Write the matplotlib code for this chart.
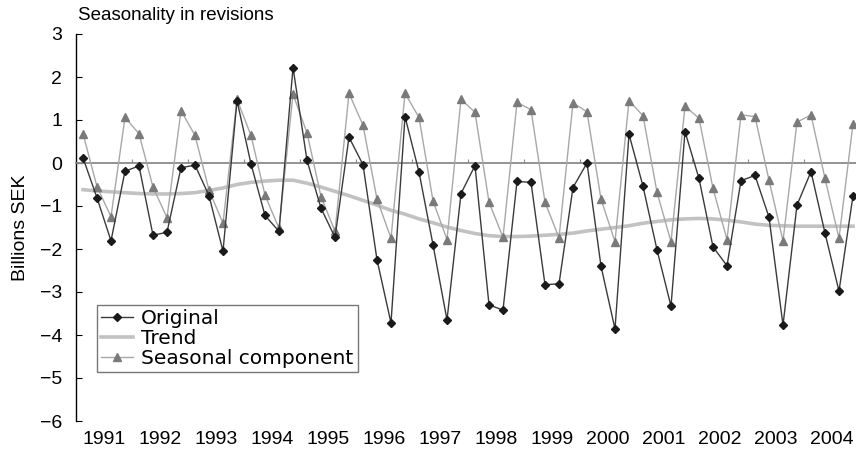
"""Seasonality in revisions: original series, trend and seasonal component."""

import matplotlib

matplotlib.use("Agg")
import matplotlib.pyplot as plt
import numpy as np

plt.rcParams["font.family"] = ["Liberation Sans", "DejaVu Sans"]

# quarterly data, 1991Q1 .. 2004Q4 (billions SEK)
years = list(range(1991, 2005))

original = [
    0.12, -0.81, -1.81, -0.19,
    -0.07, -1.68, -1.61, -0.11,
    -0.05, -0.76, -2.05, 1.45,
    -0.02, -1.22, -1.59, 2.22,
    0.06, -1.05, -1.73, 0.60,
    -0.04, -2.25, -3.72, 1.08,
    -0.21, -1.90, -3.65, -0.71,
    -0.06, -3.30, -3.42, -0.43,
    -0.45, -2.83, -2.81, -0.57,
    0.00, -2.40, -3.86, 0.67,
    -0.54, -2.02, -3.33, 0.73,
    -0.36, -1.95, -2.39, -0.41,
    -0.29, -1.26, -3.77, -0.98,
    -0.20, -1.63, -2.98, -0.76,
]

seasonal = [
    0.68, -0.55, -1.25, 1.06,
    0.68, -0.56, -1.27, 1.22,
    0.64, -0.63, -1.40, 1.48,
    0.64, -0.75, -1.52, 1.60,
    0.70, -0.78, -1.59, 1.62,
    0.88, -0.84, -1.75, 1.62,
    1.06, -0.88, -1.78, 1.48,
    1.18, -0.91, -1.73, 1.41,
    1.24, -0.91, -1.74, 1.40,
    1.19, -0.84, -1.83, 1.45,
    1.10, -0.68, -1.83, 1.32,
    1.04, -0.59, -1.78, 1.12,
    1.08, -0.40, -1.81, 0.95,
    1.12, -0.36, -1.75, 0.91,
]

trend = [
    -0.62, -0.65, -0.67, -0.69,
    -0.71, -0.72, -0.72, -0.71,
    -0.69, -0.64, -0.58, -0.50,
    -0.45, -0.42, -0.40, -0.40,
    -0.47, -0.56, -0.66, -0.76,
    -0.87, -0.98, -1.10, -1.19,
    -1.30, -1.39, -1.49, -1.57,
    -1.64, -1.69, -1.71, -1.71,
    -1.70, -1.68, -1.66, -1.63,
    -1.58, -1.54, -1.50, -1.46,
    -1.40, -1.36, -1.32, -1.30,
    -1.29, -1.30, -1.33, -1.37,
    -1.42, -1.45, -1.46, -1.47,
    -1.47, -1.47, -1.47, -1.47,
]

y_ticks = [3, 2, 1, 0, -1, -2, -3, -4, -5, -6]

# quarter midpoints in year units
x = np.array([y + (q + 0.5) / 4 for y in years for q in range(4)])

fig = plt.figure(figsize=(8.56, 4.5), dpi=100)
ax = fig.add_axes([76 / 856, 29 / 450, 780 / 856, 387 / 450])

ax.plot(x, trend, color="#c2c2c2", lw=2.6, zorder=2, label="Trend")
ax.plot(x, original, color="#3a3a3a", lw=1.0, marker="D", ms=4.2,
        mfc="#1a1a1a", mec="#1a1a1a", zorder=4, label="Original")
ax.plot(x, seasonal, color="#a8a8a8", lw=1.0, marker="^", ms=5.5,
        mfc="#7a7a7a", mec="#7a7a7a", zorder=3, label="Seasonal component")

ax.set_xlim(1991, 1991 + 780 / 56)
ax.set_ylim(-6, 3)

# x axis drawn on the zero line, year labels at the bottom
for side in ("top", "right"):
    ax.spines[side].set_visible(False)
ax.spines["bottom"].set_position(("data", 0))
ax.spines["bottom"].set_color("#8a8a8a")
ax.spines["bottom"].set_linewidth(1.3)
ax.set_xticks(years[1:])
ax.tick_params(axis="x", direction="in", length=3, color="#8a8a8a", labelbottom=False)

secax = ax.secondary_xaxis(0)
secax.set_xticks([y + 0.5 for y in years])
secax.set_xticklabels([str(y) for y in years], fontsize=14)
secax.tick_params(axis="x", length=0, pad=7)
secax.spines["bottom"].set_visible(False)

ax.spines["left"].set_linewidth(1.0)
ax.set_yticks(y_ticks)
ax.set_yticklabels([str(v).replace("-", "\u2212") for v in y_ticks], fontsize=14)
ax.tick_params(axis="y", direction="in", length=4, pad=10)
ax.set_ylabel("Billions SEK", fontsize=14, labelpad=8)

fig.text(78 / 856, 1 - 16 / 450, "Seasonality in revisions", fontsize=13.5, va="center", ha="left")

handles, labels = ax.get_legend_handles_labels()
order = [1, 0, 2]
leg = ax.legend([handles[i] for i in order], [labels[i] for i in order],
                loc="lower left", bbox_to_anchor=(0.027, 0.127), borderaxespad=0,
                prop={"family": "DejaVu Sans", "size": 14.5}, frameon=True,
                fancybox=False, handlelength=1.6, handletextpad=0.4,
                labelspacing=0.05, borderpad=0.2)
leg.get_frame().set_edgecolor("#555555")
leg.get_frame().set_linewidth(1.0)

fig.savefig("out.png", dpi=100)
